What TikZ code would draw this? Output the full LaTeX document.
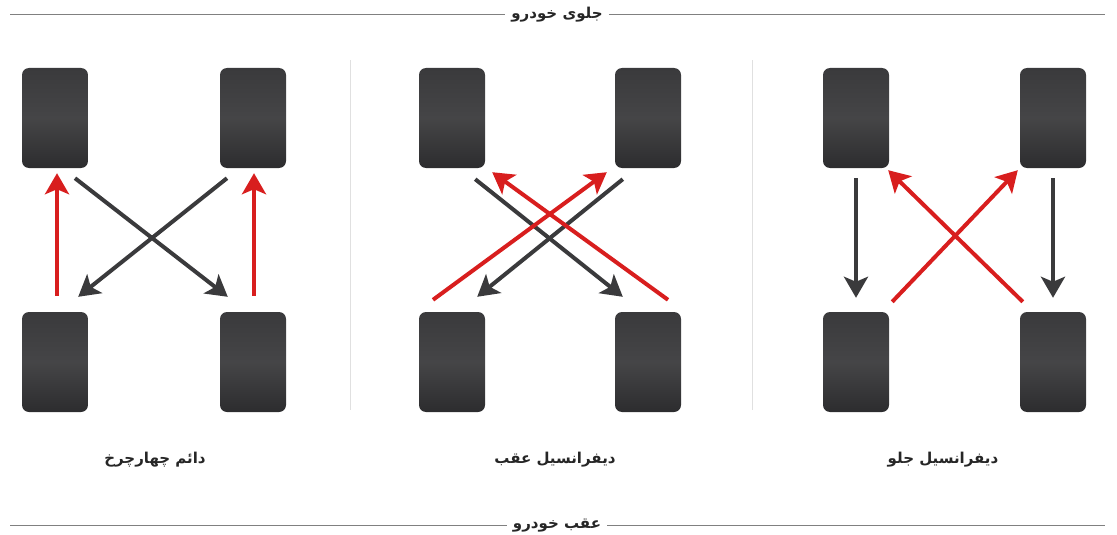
\documentclass[tikz,border=0pt]{standalone}
\usepackage{fontspec}
\usetikzlibrary{arrows.meta}
\TeXXeTstate=1
\newfontfamily\arabicfont[Script=Arabic]{DejaVu Sans}
\definecolor{tiretop}{HTML}{3A3A3C}
\definecolor{tiremid}{HTML}{454547}
\definecolor{tirebot}{HTML}{2C2C2E}
\definecolor{arrred}{HTML}{D81E1E}
\definecolor{arrdark}{HTML}{3A3A3C}
\tikzset{
  tire/.style={rounded corners=7pt, top color=tiretop, bottom color=tirebot, middle color=tiremid, draw=none, minimum width=66pt, minimum height=100pt, inner sep=0pt},
  redarr/.style={draw=arrred, line width=4pt, -{Stealth[length=21pt,width=24pt,inset=5pt]}},
  darkarr/.style={draw=arrdark, line width=4pt, -{Stealth[length=21pt,width=24pt,inset=5pt]}},
  lbl/.style={font=\arabicfont\bfseries\fontsize{15}{18}\selectfont, text=black!85},
  sep/.style={draw=black!12, line width=0.8pt},
  rule/.style={draw=black!50, line width=1pt}
}
\begin{document}
\begin{tikzpicture}[x=1pt,y=-1pt]
\useasboundingbox (0,0) rectangle (1117,535);
% header / footer
\node[lbl, inner xsep=6pt] (front) at (557,15) {\beginR جلوی خودرو\endR};
\coordinate (fl) at (10,15); \coordinate (fr) at (1105,15);
\node[lbl, inner xsep=6pt] (rear) at (557,526) {\beginR عقب خودرو\endR};
\coordinate (rl) at (10,525); \coordinate (rr) at (1105,525);
\draw[rule] (fl) -- (fl -| front.west);
\draw[rule] (fr -| front.east) -- (fr);
\draw[rule] (rl) -- (rl -| rear.west);
\draw[rule] (rr -| rear.east) -- (rr);
% separators
\coordinate (s1a) at (350,60); \coordinate (s1b) at (350,410);
\coordinate (s2a) at (752,60); \coordinate (s2b) at (752,410);
\draw[sep] (s1a) -- (s1b);
\draw[sep] (s2a) -- (s2b);
% tires panel 1
\node[tire] (a1) at (55,118) {};
\node[tire] (a2) at (253,118) {};
\node[tire] (a3) at (55,362) {};
\node[tire] (a4) at (253,362) {};
% tires panel 2
\node[tire] (b1) at (452,118) {};
\node[tire] (b2) at (648,118) {};
\node[tire] (b3) at (452,362) {};
\node[tire] (b4) at (648,362) {};
% tires panel 3
\node[tire] (c1) at (856,118) {};
\node[tire] (c2) at (1053,118) {};
\node[tire] (c3) at (856,362) {};
\node[tire] (c4) at (1053,362) {};
% panel 1 arrows
\draw[redarr] ([xshift=2pt,yshift=16pt]a3.north) -- ([xshift=2pt,yshift=-5pt]a1.south);
\draw[redarr] ([xshift=1pt,yshift=16pt]a4.north) -- ([xshift=1pt,yshift=-5pt]a2.south);
\draw[darkarr] ([xshift=20pt,yshift=-10pt]a1.south) -- ([xshift=8pt,yshift=15pt]a4.north west);
\draw[darkarr] ([xshift=-26pt,yshift=-10pt]a2.south) -- ([xshift=-10pt,yshift=15pt]a3.north east);
% panel 2 arrows
\draw[darkarr] ([xshift=-10pt,yshift=-11pt]b1.south east) -- ([xshift=8pt,yshift=15pt]b4.north west);
\draw[darkarr] ([xshift=8pt,yshift=-11pt]b2.south west) -- ([xshift=-8pt,yshift=15pt]b3.north east);
\draw[redarr] ([xshift=-19pt,yshift=12pt]b3.north) -- ([xshift=-8pt,yshift=-4pt]b2.south west);
\draw[redarr] ([xshift=20pt,yshift=12pt]b4.north) -- ([xshift=7pt,yshift=-4pt]b1.south east);
% panel 3 arrows
\draw[darkarr] ([yshift=-10pt]c1.south) -- ([yshift=14pt]c3.north);
\draw[darkarr] ([yshift=-10pt]c2.south) -- ([yshift=14pt]c4.north);
\draw[redarr] ([xshift=3pt,yshift=10pt]c3.north east) -- ([xshift=-2pt,yshift=-2pt]c2.south west);
\draw[redarr] ([xshift=3pt,yshift=10pt]c4.north west) -- ([xshift=-1pt,yshift=-2pt]c1.south east);
% labels
\node[lbl] (l1) at (155,460) {\beginR دائم چهارچرخ\endR};
\node[lbl] (l2) at (555,460) {\beginR دیفرانسیل عقب\endR};
\node[lbl] (l3) at (943,460) {\beginR دیفرانسیل جلو\endR};
\end{tikzpicture}
\end{document}
